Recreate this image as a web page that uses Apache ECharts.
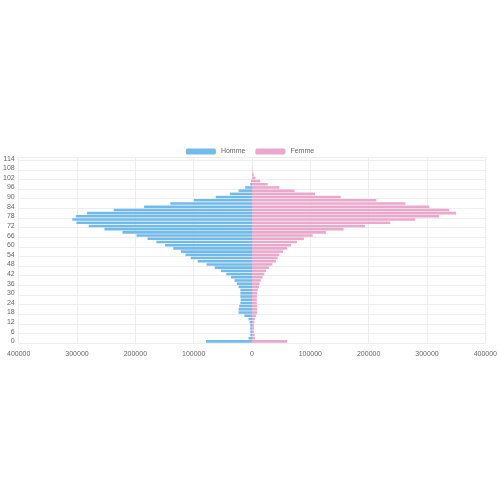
<!DOCTYPE html>
<html lang="fr">
<head>
<meta charset="UTF-8">
<title>Pyramide des âges</title>
<script src="https://cdn.jsdelivr.net/npm/echarts@6/dist/echarts.min.js"></script>
<style>
  html, body { margin: 0; padding: 0; }
  #chart { width: 500px; height: 500px; }
</style>
</head>
<body>
<div id="chart"></div>
<script>
// tranches d'âge (pas de 2 ans)
var ages = [];
for (var a = 0; a <= 114; a += 2) ages.push(String(a));

// effectifs, de 0 à 114 ans
var homme = [79000, 6000, 3000, 3000, 3000, 3000, 4000, 6000, 13000, 23000,
  23000, 22000, 20000, 19500, 20000, 20000, 20000, 23000, 26000, 30000,
  36000, 44000, 53000, 64000, 78000, 93000, 105000, 114000, 122000, 135000,
  149000, 164000, 179000, 198000, 222000, 253000, 280000, 301000, 308000, 302000,
  283000, 237000, 185000, 140000, 99500, 62000, 38000, 23000, 11700, 3000,
  1500, 0, 0, 0, 0, 0, 0, 0];
var femme = [60000, 5000, 4500, 3300, 3300, 3300, 4000, 5000, 7000, 9000,
  9000, 9000, 8300, 8300, 8300, 9000, 10000, 12000, 13000, 15000,
  18000, 21000, 24000, 29000, 35000, 41000, 44000, 47000, 53000, 60000,
  67000, 77000, 89000, 104000, 127000, 157000, 194000, 237000, 280000, 321000,
  350000, 338000, 304000, 263000, 213000, 152000, 108000, 73000, 47000, 27000,
  14000, 6000, 2800, 1000, 500, 0, 0, 0];

var chart = echarts.init(document.getElementById('chart'));
chart.setOption({
  animation: false,
  color: ['#72bbe8', '#e8a9cc'],
  legend: {
    top: 143, left: 'center', itemWidth: 30, itemHeight: 6, itemGap: 10,
    textStyle: { fontSize: 7, color: '#666' }
  },
  grid: { left: 13, right: 8, top: 157, bottom: 157 },
  xAxis: {
    type: 'value', min: -400000, max: 400000, interval: 100000,
    axisLabel: {
      fontSize: 7, color: '#666',
      formatter: function (v) { return String(Math.abs(v)); }
    },
    splitLine: { lineStyle: { color: '#eee' } },
    axisLine: { show: false }, axisTick: { show: false }
  },
  yAxis: {
    type: 'category', data: ages,
    position: 'left',
    axisLabel: { fontSize: 7, color: '#666', interval: 2, margin: 4 },
    axisTick: { show: false },
    axisLine: { show: false },
    splitLine: { show: true, interval: 2, lineStyle: { color: '#eee' } }
  },
  series: [
    {
      name: 'Homme', type: 'bar', barGap: '-100%', barCategoryGap: '20%',
      data: homme.map(function (v) { return -v; })
    },
    {
      name: 'Femme', type: 'bar', barCategoryGap: '20%',
      data: femme
    }
  ]
});
</script>
</body>
</html>
